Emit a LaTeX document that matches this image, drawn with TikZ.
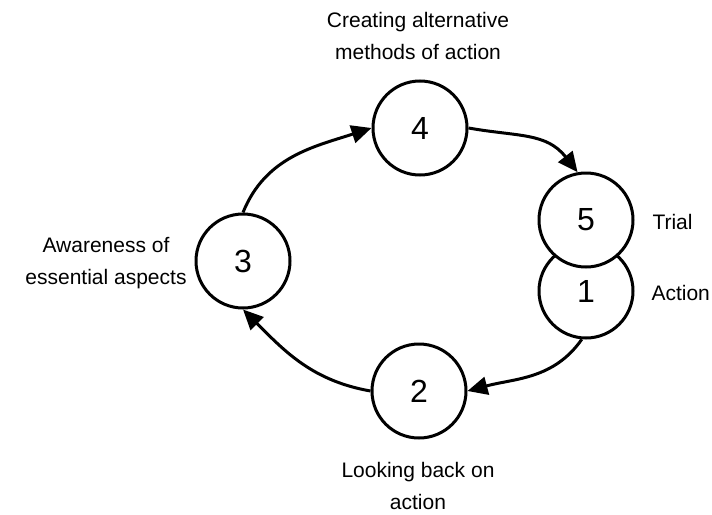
\documentclass[tikz,border=0pt]{standalone}
\usepackage{fontspec}
\setmainfont{Liberation Sans}
\usetikzlibrary{arrows.meta}

\begin{document}
\begin{tikzpicture}[
            x=1pt, y=1pt,
            stage/.style={circle, draw, line width=3pt, fill=white, minimum size=94pt,
                inner sep=0pt, font=\fontsize{32}{32}\selectfont},
            flow/.style={-{Triangle[length=20pt, width=18pt]}, line width=3pt},
            caption/.style={align=center, font=\fontsize{21}{32}\selectfont},
        ]
            \useasboundingbox (0,0) rectangle (712,-514);

            % --- Dibujar las etapas del ciclo ---
            \node[stage] (c1) at (586,-291) {1};
            \node[stage] (c5) at (586,-220) {5};
            \node[stage] (c4) at (420,-128) {4};
            \node[stage] (c3) at (243,-261) {3};
            \node[stage] (c2) at (419,-391) {2};

            % --- Dibujar las flechas entre etapas ---
            \draw[flow] (c3.north) to[out=68, in=198] (c4.west);
            \draw[flow] (c4.east) to[out=-10, in=128, looseness=1.1] (c5.100);
            \draw[flow] (c1.265) to[out=-125, in=15] (c2.east);
            \draw[flow] (c2.west) to[out=170, in=-45] (c3.south);

            % --- Añadir etiquetas ---
            \node[caption] (t4) at (418,-36) {Creating alternative\\methods of action};
            \node[caption, anchor=west] (t5) at (649,-222) {Trial};
            \node[caption, anchor=west] (t1) at (648,-293) {Action};
            \node[caption] (t3) at (106,-263) {Awareness of\\essential aspects};
            \node[caption] (t2) at (418,-486) {Looking back on\\action};
        \end{tikzpicture}
\end{document}
